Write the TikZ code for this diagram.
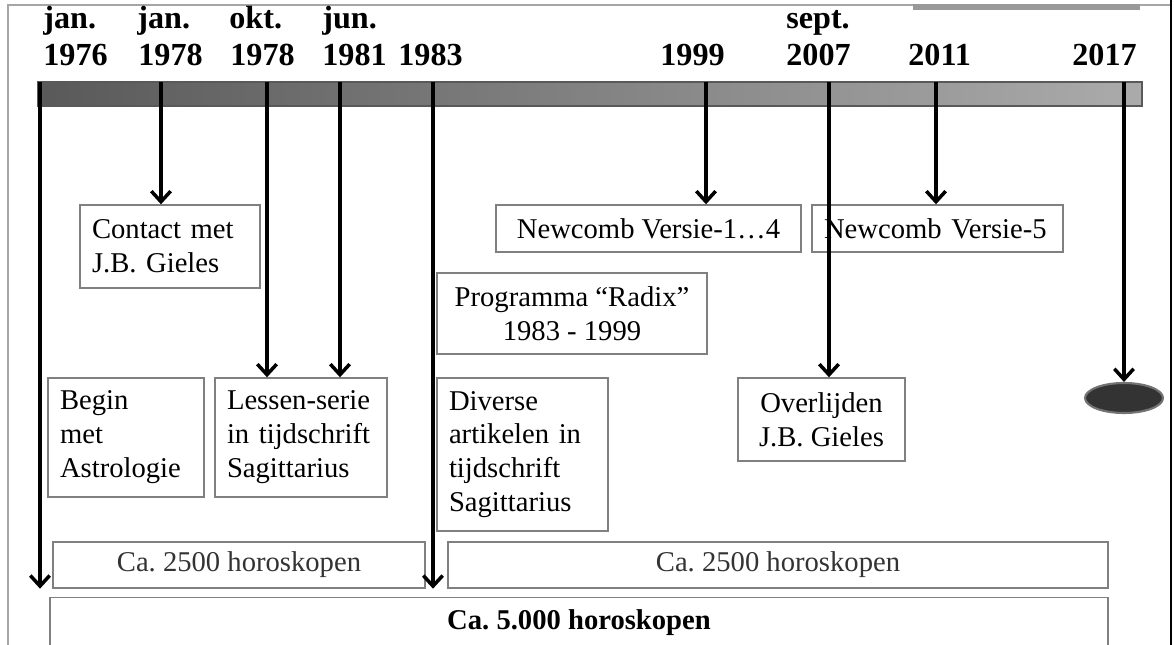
\documentclass[tikz,border=0pt]{standalone}
\usepackage{fontspec}
\setmainfont{Liberation Serif}
\usetikzlibrary{arrows.meta,shapes.geometric}
\frenchspacing

\begin{document}
\begin{tikzpicture}[x=0.02cm,y=-0.02cm,
    kader/.style={draw=black!50,line width=0.8pt,fill=white,inner xsep=0.24cm,inner ysep=0pt,
                  font=\fontsize{16.3}{19.3}\selectfont},
    datum/.style={anchor=base west,inner sep=0pt,font=\bfseries\fontsize{18.3}{22}\selectfont},
    pijl/.style={line width=2pt,-{Straight Barb[length=6pt,width=11pt,line width=2pt]}}]
    \path[use as bounding box] (0,0) rectangle (1174,645);
    \clip (0,0) rectangle (1174,645);

    % kader rond de figuur
    \draw[black!35,line width=1pt] (8,645) -- (8,5) -- (1171,5);
    \draw[line width=1.5pt] (1171,0) -- (1171,645);
    \fill[black!40] (913,4) rectangle (1140,10);

    % tijdlijn
    \draw[draw=black!65,line width=0.6pt,left color=black!65,right color=black!33] (38,82) rectangle (1142,106);

    % data
    \node[datum] (m76) at (43,29) {jan.};
    \node[datum] (j76) at (43,66) {1976};
    \node[datum] (m78a) at (137,29) {jan.};
    \node[datum] (j78a) at (138,66) {1978};
    \node[datum] (m78b) at (229,29) {okt.};
    \node[datum] (j78b) at (230,66) {1978};
    \node[datum] (m81) at (322,29) {jun.};
    \node[datum] (j81) at (322,66) {1981};
    \node[datum] (j83) at (398,66) {1983};
    \node[datum] (j99) at (660,66) {1999};
    \node[datum] (m07) at (786,29) {sept.};
    \node[datum] (j07) at (786,66) {2007};
    \node[datum] (j11) at (908,66) {2011};
    \node[datum] (j17) at (1072,66) {2017};

    \coordinate (k76) at (40,82);
    \coordinate (k78a) at (161,82);
    \coordinate (k78b) at (267,82);
    \coordinate (k81) at (340,82);
    \coordinate (k83) at (433,82);
    \coordinate (k99) at (706,82);
    \coordinate (k07) at (829,82);
    \coordinate (k11) at (936,82);
    \coordinate (k17) at (1124,82);

    % gebeurtenissen
    \node[kader,text width=3.12cm,align=left,minimum height=1.66cm] (contact) at (170,246.5) {Contact met\\J.B. Gieles};
    \node[kader,align=center,minimum width=6.1cm,minimum height=0.94cm] (versie14) at (648.5,228.5) {Newcomb Versie-1…4};
    \node[kader,text width=4.54cm,align=left,minimum height=0.94cm] (versie5) at (937.5,228.5) {Newcomb Versie-5};
    \node[kader,align=center,minimum width=5.4cm,minimum height=1.62cm] (radix) at (572,313.5) {Programma “Radix”\\1983 - 1999};
    \node[kader,text width=2.64cm,align=left,minimum height=2.38cm] (begin) at (126,437.5) {Begin\\met\\Astrologie};
    \node[kader,text width=2.96cm,align=left,minimum height=2.38cm] (lessen) at (301,437.5) {Lessen-serie\\in tijdschrift\\Sagittarius};
    \node[kader,text width=2.94cm,align=left,minimum height=3.06cm] (artikelen) at (522.5,454.5) {Diverse\\artikelen in\\tijdschrift\\Sagittarius};
    \node[kader,align=center,minimum width=3.34cm,minimum height=1.66cm] (overlijden) at (821.5,419.5) {Overlijden\\J.B. Gieles};
    \node[ellipse,fill=black!80,draw=black!55,line width=1.2pt,minimum width=1.56cm,minimum height=0.6cm] (einde) at (1124,398) {};

    % aantallen
    \node[kader,text=black!80,minimum width=7.44cm,minimum height=0.92cm] (deel1) at (239,565) {Ca. 2500 horoskopen};
    \node[kader,text=black!80,minimum width=13.2cm,minimum height=0.92cm] (deel2) at (778,565) {Ca. 2500 horoskopen};
    \node[kader,font=\bfseries\fontsize{16.3}{19.3}\selectfont,minimum width=21.16cm,minimum height=1.0cm] (totaal) at (579,622.5) {Ca. 5.000 horoskopen};

    % pijlen
    \draw[pijl] (k76) -- (k76 |- deel1.south);
    \draw[pijl] (k78a) -- (k78a |- contact.north);
    \draw[pijl] (k78b) -- (k78b |- lessen.north);
    \draw[pijl] (k81) -- (k81 |- lessen.north);
    \draw[pijl] (k83) -- (k83 |- deel1.south);
    \draw[pijl] (k99) -- (k99 |- versie14.north);
    \draw[pijl] (k07) -- (k07 |- overlijden.north);
    \draw[pijl] (k11) -- (k11 |- versie5.north);
    \draw[pijl] (k17) -- (einde.north);
\end{tikzpicture}
\end{document}
